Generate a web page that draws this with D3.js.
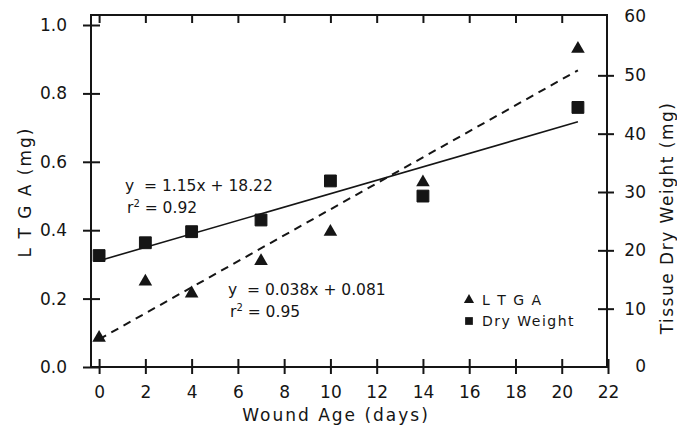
<!DOCTYPE html>
<html>
<head>
<meta charset="utf-8">
<script src="https://cdn.jsdelivr.net/npm/d3@7"></script>
<style>
  body { margin: 0; background: #fff; }
  #container { width: 677px; height: 425px; }
  text { font-family: "DejaVu Sans", sans-serif; fill: #151515; }
</style>
</head>
<body>
<div id="container"></div>
<script>
var days = [0, 2, 4, 7, 10, 14, 20.7];
var ltga = [0.085, 0.25, 0.215, 0.31, 0.395, 0.54, 0.93];
var dryWeight = [19.1, 21.3, 23.2, 25.2, 31.9, 29.3, 44.5];
var xTicks = [0, 2, 4, 6, 8, 10, 12, 14, 16, 18, 20, 22];
var leftTicks = [0, 0.2, 0.4, 0.6, 0.8, 1.0];
var rightTicks = [0, 10, 20, 30, 40, 50, 60];
// fitted lines as printed on the figure
var ltgaFit = [0.038, 0.081];
var dryFit = [1.15, 18.22];

var ink = "#151515";
var svg = d3.select("#container").append("svg")
  .attr("width", 677).attr("height", 425);

var box = { left: 91, right: 607, top: 15, bottom: 367 };
var x = d3.scaleLinear().domain([-0.35, 22]).range([box.left, box.right + 1]);
var yL = d3.scaleLinear().domain([0, 1]).range([box.bottom, 25]);
var yR = d3.scaleLinear().domain([0, 60]).range([box.bottom, box.top + 2]);

// frame
svg.append("rect")
  .attr("x", box.left).attr("y", box.top)
  .attr("width", box.right - box.left).attr("height", box.bottom - box.top)
  .attr("fill", "none").attr("stroke", ink).attr("stroke-width", 2);

function style(g) {
  g.select(".domain").remove();
  g.selectAll(".tick line").attr("stroke", ink).attr("stroke-width", 2);
  g.selectAll(".tick text").attr("fill", ink).style("font-size", "17px");
}

// bottom axis
svg.append("g")
  .attr("transform", "translate(0," + box.bottom + ")")
  .call(d3.axisBottom(x).tickValues(xTicks).tickFormat(d3.format("d")).tickSize(7).tickPadding(12))
  .call(style)
  .call(function (g) { g.selectAll(".tick line").attr("y1", -8); });

// top ticks
svg.append("g")
  .attr("transform", "translate(0," + box.top + ")")
  .call(d3.axisTop(x).tickValues(xTicks.slice(0, -1)).tickFormat("").tickSize(-8))
  .call(style);

// left axis
svg.append("g")
  .attr("transform", "translate(" + box.left + ",0)")
  .call(d3.axisLeft(yL).tickValues(leftTicks).tickFormat(d3.format(".1f")).tickSize(8).tickPadding(16))
  .call(style)
  .call(function (g) { g.selectAll(".tick line").attr("x1", 9); });

// right axis
svg.append("g")
  .attr("transform", "translate(" + box.right + ",0)")
  .call(d3.axisRight(yR).tickValues(rightTicks.slice(1, -1)).tickFormat(d3.format("d")).tickSize(7).tickPadding(30))
  .call(style)
  .call(function (g) {
    g.selectAll(".tick line").attr("x1", -9);
    g.selectAll(".tick text").attr("text-anchor", "end").attr("x", 39);
  });
svg.append("g").selectAll("text.rl")
  .data([0, 60]).enter().append("text")
  .attr("x", box.right + 39)
  .attr("y", function (d) { return yR(d); })
  .attr("dy", "0.32em")
  .attr("text-anchor", "end")
  .style("font-size", "17px")
  .text(function (d) { return d; });

// axis titles
svg.append("text")
  .attr("transform", "translate(31,192) rotate(-90)")
  .attr("text-anchor", "middle")
  .style("font-size", "17px").style("letter-spacing", "2px")
  .text("L T G A  (mg)");
svg.append("text")
  .attr("transform", "translate(673,218) rotate(-90)")
  .attr("text-anchor", "middle")
  .style("font-size", "17px").style("letter-spacing", "1.5px")
  .text("Tissue  Dry  Weight  (mg)");
svg.append("text")
  .attr("x", 336).attr("y", 421)
  .attr("text-anchor", "middle")
  .style("font-size", "17px").style("letter-spacing", "2px")
  .text("Wound  Age  (days)");

// regression lines
var x0 = days[0], x1 = days[days.length - 1];
var line = d3.line().x(function (d) { return x(d[0]); }).y(function (d) { return d[1]; });
svg.append("path")
  .attr("d", line([[x0, yR(dryFit[0] * x0 + dryFit[1])], [x1, yR(dryFit[0] * x1 + dryFit[1])]]))
  .attr("stroke", ink).attr("stroke-width", 1.6).attr("fill", "none");
svg.append("path")
  .attr("d", line([[x0, yL(ltgaFit[0] * x0 + ltgaFit[1])], [x1, yL(ltgaFit[0] * x1 + ltgaFit[1])]]))
  .attr("stroke", ink).attr("stroke-width", 2).attr("stroke-dasharray", "8,6").attr("fill", "none");

// points
var tri = d3.symbol().type(d3.symbolTriangle).size(80);
var sq = d3.symbol().type(d3.symbolSquare).size(140);
svg.append("g").selectAll("path")
  .data(days).enter().append("path")
  .attr("d", sq)
  .attr("transform", function (d, i) { return "translate(" + x(d) + "," + yR(dryWeight[i]) + ")"; })
  .attr("fill", ink).attr("stroke", ink).attr("stroke-linejoin", "round");
svg.append("g").selectAll("path")
  .data(days).enter().append("path")
  .attr("d", tri)
  .attr("transform", function (d, i) { return "translate(" + x(d) + "," + yL(ltga[i]) + ")"; })
  .attr("fill", ink);

// equations
function equation(xp, yp, eq, r2) {
  var g = svg.append("g").style("font-size", "15.5px");
  g.append("text").attr("x", xp).attr("y", yp).attr("xml:space", "preserve").text(eq);
  var t = g.append("text").attr("x", xp + 2).attr("y", yp + 22);
  t.append("tspan").text("r");
  t.append("tspan").attr("dy", -6).style("font-size", "10px").text("2");
  t.append("tspan").attr("dy", 6).attr("xml:space", "preserve").text(" = " + r2);
}
equation(125, 191, "y  = 1.15x + 18.22", "0.92");
equation(228, 295, "y  = 0.038x + 0.081", "0.95");

// legend
var lg = svg.append("g").style("font-size", "14px").style("letter-spacing", "1.5px");
lg.append("path").attr("d", d3.symbol().type(d3.symbolTriangle).size(45)).attr("transform", "translate(469,300)").attr("fill", ink);
lg.append("text").attr("x", 482).attr("y", 305).text("L T G A");
lg.append("path").attr("d", d3.symbol().type(d3.symbolSquare).size(60)).attr("transform", "translate(469,321)").attr("fill", ink);
lg.append("text").attr("x", 482).attr("y", 326).text("Dry Weight");
</script>
</body>
</html>
